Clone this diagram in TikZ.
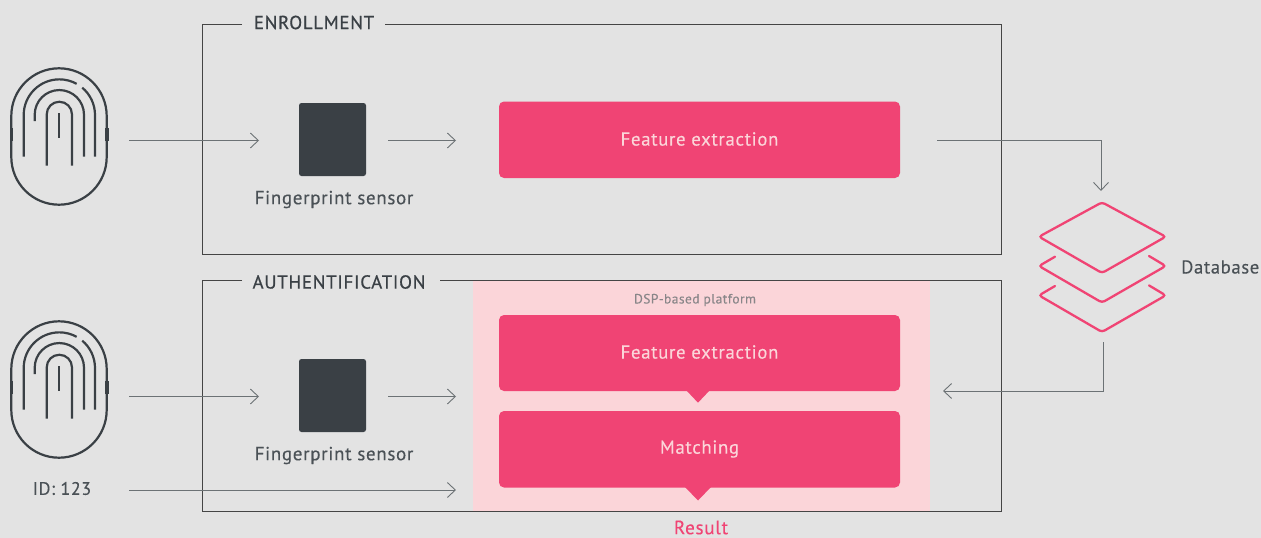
\documentclass[tikz,border=0pt]{standalone}
\usepackage{fontspec}
\setmainfont{PT Sans}[LetterSpace=3.5,RawFeature={embolden=0.25}]
\newfontfamily\headfont{PT Sans}[LetterSpace=4,RawFeature={embolden=0.7}]
\usetikzlibrary{arrows.meta}
\definecolor{bgc}{HTML}{E3E3E3}
\definecolor{ink}{HTML}{3A4045}
\definecolor{txt}{HTML}{4A5156}
\definecolor{rose}{HTML}{F04474}
\definecolor{pale}{HTML}{FBD5D9}
\definecolor{wire}{HTML}{6C7275}
\definecolor{frame}{HTML}{454545}
\tikzset{
  x=1pt,y=-1pt,
  wirearrow/.style={draw=wire,line width=0.9pt,-{Straight Barb[length=8pt,width=15pt,line width=0.9pt]}},
  framebox/.style={draw=frame,line width=1pt},
  sensorbox/.style={fill=ink,rounded corners=2.5pt},
  rosebox/.style={fill=rose,rounded corners=5pt},
  label/.style={inner sep=0pt,font=\fontsize{19}{21}\selectfont,text=txt},
  boxlabel/.style={inner sep=0pt,font=\fontsize{18.8}{21}\selectfont,text=pale},
  head/.style={inner sep=0pt,font=\headfont\fontsize{18.8}{21}\selectfont,text=ink},
  fpline/.style={draw=ink,line width=2.2pt},
  dbline/.style={draw=rose,line width=2.3pt,rounded corners=3pt,line cap=round},
  fingerprint/.pic={
    \draw[fpline] (11.3,116) arc[start angle=180,end angle=360,radius=47.7] -- (106.7,157) arc[start angle=0,end angle=180,radius=47.7] -- cycle;
    \draw[draw=ink,line width=3.6pt] (11.3,128) -- (11.3,141) (106.7,128) -- (106.7,141);
    \draw[fpline] (46.7,165.7) -- (46.7,114.4) arc[start angle=180,end angle=360,radius=12.65] -- (72,165.7);
    \draw[fpline] (59.3,113) -- (59.3,138);
    \draw[fpline] (34.7,121) -- (34.7,114.7) arc[start angle=180,end angle=360,radius=24.65] -- (84,156.7);
    \draw[fpline] (23.7,156.7) -- (23.7,115) arc[start angle=180,end angle=299,radius=35.65];
    \draw[fpline] (95,156.7) -- (95,115) arc[start angle=0,end angle=-50,radius=35.65];
  },
}
\begin{document}
\begin{tikzpicture}
\useasboundingbox (0,0) rectangle (1261,538);
\fill[bgc] (0,0) rectangle (1261,538);
% frames
\draw[framebox] (242,24.5) -- (202.5,24.5) -- (202.5,254) -- (1001,254) -- (1001,24.5) -- (385,24.5);
\fill[pale] (473,281) rectangle (929.5,510.5);
\draw[framebox] (242,280.5) -- (202.5,280.5) -- (202.5,511) -- (1001,511) -- (1001,280.5) -- (440,280.5);
\node[head] (enroll) at (314,22.5) {ENROLLMENT};
\node[head] (auth) at (339,282) {AUTHENTIFICATION};
% fingerprints
\pic at (0,0) {fingerprint};
\pic at (0,253) {fingerprint};
% nodes
\fill[sensorbox] (299,103) rectangle (366,176);
\coordinate (s1) at (332.5,139.5);
\fill[sensorbox] (299,359) rectangle (366,432);
\coordinate (s2) at (332.5,395.5);
\node[label] (s1t) at (334,199.5) {Fingerprint sensor};
\node[label] (s2t) at (334,455.5) {Fingerprint sensor};
\fill[rosebox] (499,101.5) rectangle (900,178);
\node[boxlabel] (f1) at (699.5,139) {Feature extraction};
\fill[rose] (686,390) -- (698,402.7) -- (710,390) -- cycle;
\fill[rosebox] (499,315) rectangle (900,391);
\node[boxlabel] (f2) at (699.5,352) {Feature extraction};
\fill[rose] (685,487) -- (698,500.5) -- (711,487) -- cycle;
\fill[rosebox] (499,411) rectangle (900,487.5);
\node[boxlabel] (m) at (699.5,449) {Matching};
\node[inner sep=0pt,font=\fontsize{13.4}{15}\selectfont,text=wire!80!pale] (dsp) at (695,300) {DSP-based platform};
\node[inner sep=0pt,font=\fontsize{19.2}{21}\selectfont,text=rose] (res) at (701,527.5) {Result};
\node[inner sep=0pt,font=\fontsize{18}{21}\selectfont,text=txt] (id) at (62,488.5) {ID: 123};
\node[inner sep=0pt,font=\fontsize{18.6}{21}\selectfont,text=txt,anchor=west] (db) at (1181,267) {Database};
% database icon
\draw[dbline] (1102,202.3) -- (1165.7,236.7) -- (1102,273) -- (1039,236.7) -- cycle;
\draw[dbline] (1055,256.7) -- (1039,266) -- (1102,302.6) -- (1165.7,266) -- (1149,256);
\draw[dbline] (1055,286) -- (1039,295.4) -- (1102,332) -- (1165.7,295.4) -- (1149,285.4);
% connectors
\coordinate (a1) at (129,140.5); \coordinate (a2) at (259,140.5);
\coordinate (a3) at (388,140.5); \coordinate (a4) at (456,140.5);
\coordinate (a5) at (937,140); \coordinate (a6) at (1101,140); \coordinate (a7) at (1101,191);
\coordinate (b1) at (129,396.5); \coordinate (b2) at (259,396.5);
\coordinate (b3) at (388,396.5); \coordinate (b4) at (456,396.5);
\coordinate (c1) at (129,490); \coordinate (c2) at (456,490);
\coordinate (d1) at (1103.5,342); \coordinate (d2) at (1103.5,391); \coordinate (d3) at (943,391);
\draw[wirearrow] (a1) -- (a2);
\draw[wirearrow] (a3) -- (a4);
\draw[wirearrow] (a5) -- (a6) -- (a7);
\draw[wirearrow] (b1) -- (b2);
\draw[wirearrow] (b3) -- (b4);
\draw[wirearrow] (c1) -- (c2);
\draw[wirearrow] (d1) -- (d2) -- (d3);
\end{tikzpicture}
\end{document}
